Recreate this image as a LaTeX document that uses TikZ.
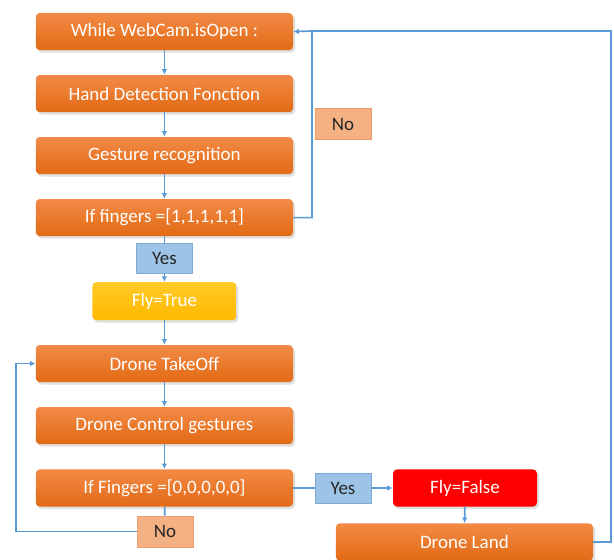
\documentclass[tikz,border=0pt]{standalone}
\usepackage{fontspec}
\setmainfont{Carlito}
\usepackage{tikz}
\usetikzlibrary{arrows.meta,shadows}
\definecolor{flowOrangeTop}{HTML}{F28A46}
\definecolor{flowOrangeBot}{HTML}{E26A14}
\definecolor{flowBlue}{HTML}{5B9BD5}
\definecolor{flowYesFill}{HTML}{9DC3E6}
\definecolor{flowYesDraw}{HTML}{7EAAD8}
\definecolor{flowNoFill}{HTML}{F4B183}
\definecolor{flowNoDraw}{HTML}{F19A6A}
\definecolor{flowGold}{HTML}{FFC000}
\definecolor{flowRed}{HTML}{FF0000}
\definecolor{flowInk}{HTML}{262626}
\tikzset{
    flow/process/.style={
        rectangle, rounded corners=1mm,
        top color=flowOrangeTop, bottom color=flowOrangeBot,
        draw=none, text=white, font=\fontsize{13.5}{16}\selectfont,
        minimum width=6.43cm, minimum height=0.93cm, inner sep=0pt,
        drop shadow={opacity=0.25, shadow xshift=0.5mm, shadow yshift=-0.6mm}
    },
    flow/fly true/.style={
        flow/process, top color=flowGold!85!white, bottom color=flowGold!90!orange,
        minimum width=3.6cm, minimum height=0.95cm
    },
    flow/fly false/.style={
        flow/process, top color=flowRed, bottom color=flowRed,
        minimum width=3.6cm
    },
    flow/yes label/.style={
        rectangle, fill=flowYesFill, draw=flowYesDraw, line width=0.6pt,
        text=flowInk, font=\fontsize{13.5}{16}\selectfont,
        minimum width=1.4cm, minimum height=0.75cm, inner sep=0pt
    },
    flow/no label/.style={
        flow/yes label, fill=flowNoFill, draw=flowNoDraw, minimum height=0.78cm
    },
    flow/line/.style={
        draw=flowBlue, line width=1.2pt
    },
    flow/arrow/.style={
        flow/line, -{Latex[length=1.4mm,width=1.4mm]}
    }
}
\begin{document}
\begin{tikzpicture}
    \useasboundingbox (0,0) rectangle (15.35,-14);
    \node[flow/process] (webcam) at (4.11,-0.79) {While WebCam.isOpen :};
    \node[flow/process] (detection) at (4.11,-2.34) {Hand Detection Fonction};
    \node[flow/process] (gesture) at (4.11,-3.89) {Gesture recognition};
    \node[flow/process] (ouvert) at (4.11,-5.44) {If fingers =[1,1,1,1,1]};
    \node[flow/yes label] (ouiHaut) at (4.11,-6.45) {Yes};
    \node[flow/fly true] (flyTrue) at (4.11,-7.53) {Fly=True};
    \node[flow/process] (takeoff) at (4.11,-9.09) {Drone TakeOff};
    \node[flow/process] (controle) at (4.11,-10.64) {Drone Control gestures};
    \node[flow/process] (ferme) at (4.11,-12.2) {If Fingers =[0,0,0,0,0]};
    \node[flow/no label] (nonBas) at (4.125,-13.29) {No};
    \node[flow/no label] (nonHaut) at (8.575,-3.1) {No};
    \node[flow/yes label] (ouiBas) at (8.575,-12.2) {Yes};
    \node[flow/fly false] (flyFalse) at (11.625,-12.2) {Fly=False};
    \node[flow/process] (land) at (11.61,-13.55) {Drone Land};
    \coordinate (retourHaut) at (7.8,-0.775);
    \coordinate (coinDroit) at (15.275,-0.775);
    \coordinate (coinGauche) at (0.4,-13.29);

    \draw[flow/arrow] (webcam) -- (detection);
    \draw[flow/arrow] (detection) -- (gesture);
    \draw[flow/arrow] (gesture) -- (ouvert);
    \draw[flow/line] (ouvert) -- (ouiHaut);
    \draw[flow/arrow] (ouiHaut) -- (flyTrue);
    \draw[flow/arrow] (flyTrue) -- (takeoff);
    \draw[flow/arrow] (takeoff) -- (controle);
    \draw[flow/arrow] (controle) -- (ferme);
    \draw[flow/arrow] (ouvert.east) -| (retourHaut) -- (webcam.east);
    \draw[flow/line] (ferme) -- (nonBas);
    \draw[flow/arrow] (nonBas.west) -- (coinGauche) |- (takeoff.west);
    \draw[flow/line] (ferme.east) -- (ouiBas.west);
    \draw[flow/arrow] (ouiBas.east) -- (flyFalse.west);
    \draw[flow/arrow] (flyFalse) -- (land);
    \draw[flow/line] (land.east) -| (coinDroit) -- (retourHaut);
\end{tikzpicture}
\end{document}
